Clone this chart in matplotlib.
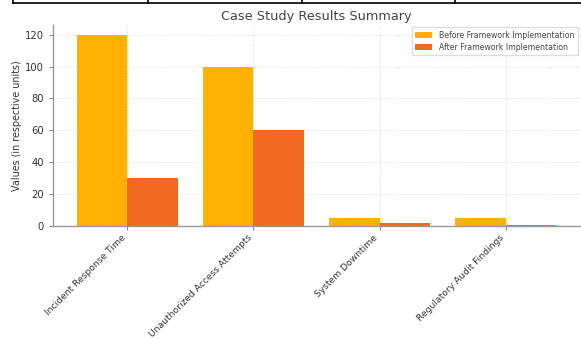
import numpy as np
import matplotlib
matplotlib.use("Agg")
import matplotlib.pyplot as plt

categories = ["Incident Response Time", "Unauthorized Access Attempts",
              "System Downtime", "Regulatory Audit Findings"]
before = [120, 100, 5, 5]
after = [30, 60, 2, 1]
series_names = ["Before Framework Implementation", "After Framework Implementation"]

fig = plt.figure(figsize=(5.81, 3.39), dpi=100)
ax = fig.add_axes([0.0912, 0.333, 0.907, 0.593])

x = np.arange(len(categories))
width = 0.4
ax.bar(x - width / 2, before, width, color="#FFB000", label=series_names[0], zorder=2)
ax.bar(x + width / 2, after, width, color="#F26A22", label=series_names[1], zorder=2)

ax.set_title("Case Study Results Summary", fontsize=9.3, color="#444444", pad=4)
ax.set_ylabel("Values (in respective units)", fontsize=6.9, color="#333333", labelpad=2)
ax.set_xticks(x)
ax.tick_params(colors="#888888", length=3, width=0.8)
ax.tick_params(axis="x", pad=2)
ax.set_xticklabels(categories, rotation=45, ha="right", fontsize=6.6, color="#333333")
ax.tick_params(axis="y", labelsize=7.2, labelcolor="#333333")

ax.grid(True, linestyle=":", color="#d8d8d8", linewidth=0.7, zorder=0)
for side in ["top", "right"]:
    ax.spines[side].set_visible(False)
for side in ["left", "bottom"]:
    ax.spines[side].set_color("#999999")
    ax.spines[side].set_linewidth(1.0)

leg = ax.legend(loc="upper right", fontsize=5.6, frameon=True, fancybox=True,
                framealpha=1.0, edgecolor="#dddddd", borderpad=0.45,
                labelspacing=0.35, borderaxespad=0.3,
                handlelength=2.2, handleheight=0.8, labelcolor="#444444")

# table border across the top edge
fig.add_artist(plt.Line2D([13 / 581, 1.0], [1 - 3 / 339, 1 - 3 / 339],
                          transform=fig.transFigure, color="black", linewidth=1.2))
for px in [13, 148, 302, 455]:
    fig.add_artist(plt.Line2D([px / 581, px / 581], [1 - 3 / 339, 1.0],
                              transform=fig.transFigure, color="black", linewidth=1.2))

fig.savefig("out.png", dpi=100)
